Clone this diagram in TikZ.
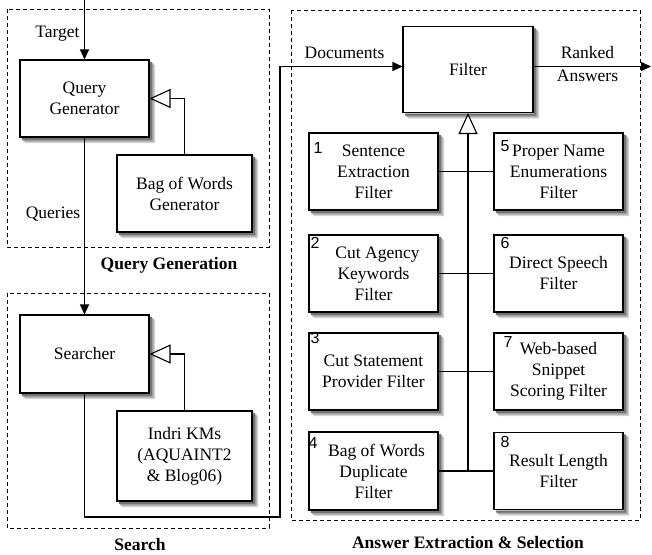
\documentclass[tikz,border=0pt]{standalone}
\usepackage{fontspec}
\setmainfont{Liberation Serif}
\newfontfamily\digitfont{Liberation Sans}
\usetikzlibrary{arrows.meta}
\begin{document}
\begin{tikzpicture}[x=1pt,y=-1pt,
  box/.style={draw, line width=1.1pt, fill=white, align=center, inner sep=0pt,
    font=\fontsize{17.5}{21}\selectfont},
  grp/.style={draw, line width=0.9pt, dash pattern=on 4pt off 3pt},
  lbl/.style={font=\fontsize{17.5}{21}\selectfont, align=center, inner sep=0pt},
  ttl/.style={font=\fontsize{17.5}{21}\selectfont\bfseries, inner sep=0pt},
  num/.style={font=\fontsize{16}{16}\selectfont\digitfont, inner sep=0pt},
  conn/.style={line width=1.1pt},
  arr/.style={conn, -{Triangle[length=10pt,width=9pt]}},
  inh/.style={conn, -{Triangle[open,length=21pt,width=19pt,fill=white]}}]
\useasboundingbox (0,0) rectangle (652,554);

% group frames
\draw[grp] (7,9) rectangle (269,247);
\draw[grp] (7,293) rectangle (269,528);
\draw[grp] (291,10) rectangle (640,520);
\node[ttl] (tqg) at (169,265) {Query Generation};
\node[ttl] (tse) at (140,545) {Search};
\node[ttl] (tae) at (468,543) {Answer Extraction \& Selection};

% boxes
\node[box, minimum width=129, minimum height=77] (qg) at (84.5,98.5) {Query\\Generator};
\node[box, minimum width=135, minimum height=77] (bow) at (184.5,193.5) {Bag of Words\\Generator};
\node[box, minimum width=129, minimum height=78] (se) at (84.5,354) {Searcher};
\node[box, minimum width=135, minimum height=90] (ind) at (184.5,456) {Indri KMs\\(AQUAINT2\\\& Blog06)};
\node[box, minimum width=130, minimum height=86] (fil) at (468,69.5) {Filter};

\node[box, minimum width=129, minimum height=77] (f1) at (373.5,171.5) {Sentence\\Extraction\\Filter};
\node[box, minimum width=129, minimum height=77] (f5) at (558.5,171.5) {Proper Name\\Enumerations\\Filter};
\node[box, minimum width=129, minimum height=77] (f2) at (373.5,273.5) {\hspace*{8pt}Cut Agency\\Keywords\\Filter};
\node[box, minimum width=129, minimum height=77] (f6) at (558.5,273.5) {Direct Speech\\Filter};
\node[box, minimum width=129, minimum height=77] (f3) at (373.5,371.5) {Cut Statement\\Provider Filter};
\node[box, minimum width=129, minimum height=77] (f7) at (558.5,371.5) {Web-based\\Snippet\\Scoring Filter};
\node[box, minimum width=129, minimum height=78] (f4) at (373.5,471) {\hspace*{6pt}Bag of Words\\Duplicate\\Filter};
\node[box, minimum width=129, minimum height=77] (f8) at (558.5,471) {Result Length\\Filter};

% shadows (L-shaped strips along the lower and right edges)
\foreach \n in {qg,bow,se,ind,fil,f1,f2,f3,f4,f5,f6,f7,f8}{
  \fill[black!18] ([shift={(5.5,5.5)}]\n.north east) -- ([shift={(5.5,5.5)}]\n.south east)
     -- ([shift={(5.5,5.5)}]\n.south west) -- ([shift={(5.5,0.6)}]\n.south west)
     -- ([shift={(0.6,0.6)}]\n.south east) -- ([shift={(0.6,5.5)}]\n.north east) -- cycle;
  \fill[black!35] ([shift={(4,4)}]\n.north east) -- ([shift={(4,4)}]\n.south east)
     -- ([shift={(4,4)}]\n.south west) -- ([shift={(4,0.6)}]\n.south west)
     -- ([shift={(0.6,0.6)}]\n.south east) -- ([shift={(0.6,4)}]\n.north east) -- cycle;
  \fill[black!55] ([shift={(2.5,2.5)}]\n.north east) -- ([shift={(2.5,2.5)}]\n.south east)
     -- ([shift={(2.5,2.5)}]\n.south west) -- ([shift={(2.5,0.6)}]\n.south west)
     -- ([shift={(0.6,0.6)}]\n.south east) -- ([shift={(0.6,2.5)}]\n.north east) -- cycle;
}

% numbers
\node[num] (n1) at (318,148) {1};
\node[num] (n5) at (505,146) {5};
\node[num] (n2) at (315,243) {2};
\node[num] (n6) at (505,243) {6};
\node[num] (n3) at (315,338) {3};
\node[num] (n7) at (508,342) {7};
\node[num] (n4) at (313,443) {4};
\node[num] (n8) at (505,442) {8};

% labels
\node[lbl] (lt) at (57.5,34) {Target};
\node[lbl] (lq) at (53,214) {Queries};
\node[lbl] (ld) at (344.5,53) {Documents};
\node[lbl] (lr) at (587.5,64.5) {Ranked\\[2pt]Answers};

% connectors
\coordinate (tgt) at (84.5,0);
\draw[arr] (tgt) -- (qg.north);
\draw[inh] (bow.north) |- (qg.east);
\draw[arr] (qg.south) -- (se.north);
\draw[inh] (ind.north) |- (se.east);
\coordinate (d1) at (280,517);
\coordinate (d2) at (280,66.5);
\draw[arr] (se.south) |- (d1) -- (d2) -- ([yshift=3pt]fil.west);
\coordinate (out) at (651,66.5);
\draw[arr] ([yshift=3pt]fil.east) -- (out);

\coordinate (j4) at (fil.south |- f4.east);
\draw[inh] (j4) -- (fil.south);
\draw[conn] (f1.east) -- (f5.west);
\draw[conn] (f2.east) -- (f6.west);
\draw[conn] (f3.east) -- (f7.west);
\draw[conn] (f4.east) -- (f8.west);
\end{tikzpicture}
\end{document}
